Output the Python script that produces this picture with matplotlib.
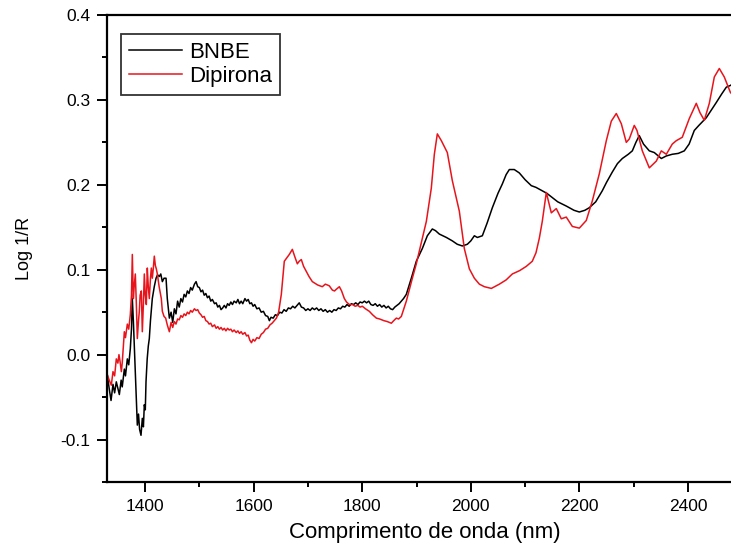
import matplotlib
matplotlib.use("Agg")
import matplotlib.pyplot as plt
from matplotlib.ticker import MultipleLocator

plt.rcParams['font.family'] = ['Liberation Sans', 'DejaVu Sans']

# BNBE spectrum (wavelength nm, log 1/R)
bnbe_nm = [1330.6, 1334, 1337.4, 1341, 1344, 1347.1, 1350, 1352.7, 1356, 1358,
           1361.9, 1364, 1367.4, 1370, 1372.9, 1375, 1376.6, 1378.5, 1380.3, 1382,
           1384, 1385.8, 1388, 1390, 1392.6, 1395, 1397, 1398.7, 1400.5, 1401.8,
           1404, 1406, 1407.9, 1410, 1413.4, 1417, 1420.3, 1423, 1426.3, 1429,
           1431.9, 1435, 1438.7,
           1441, 1444.8, 1448, 1451, 1454, 1457, 1460, 1463, 1466, 1469,
           1472, 1475, 1478, 1481, 1484, 1487, 1491, 1494, 1497, 1500,
           1503, 1506, 1509, 1512, 1515, 1518, 1521, 1524, 1528, 1531,
           1534, 1537, 1540, 1543, 1546, 1549, 1552, 1555, 1558, 1561,
           1564, 1568, 1571, 1574, 1577, 1580, 1584, 1587, 1590, 1593,
           1596, 1599, 1602, 1606, 1610, 1614, 1618, 1622, 1626, 1629,
           1632, 1636, 1640, 1644, 1648, 1652, 1656, 1660, 1664, 1668,
           1672, 1676, 1680, 1684, 1688, 1692, 1696, 1700, 1704, 1708,
           1712, 1716, 1720, 1724, 1728, 1732, 1736, 1740, 1744, 1748,
           1752, 1756, 1760, 1764, 1768, 1772, 1776, 1780, 1784, 1788,
           1792, 1796, 1800, 1804, 1808, 1812, 1816, 1820, 1824, 1828,
           1832, 1836, 1840, 1844, 1848, 1852, 1856, 1860, 1864, 1868,
           1872, 1876, 1881.2, 1890.4, 1899.6, 1910.7, 1919.9, 1929.1, 1935,
           1942.0, 1955, 1965.9, 1975, 1984.4, 1993.6, 2000, 2006.5, 2012, 2021.2,
           2030, 2039.6, 2050, 2058.0, 2065, 2070.9, 2080, 2089.3, 2100, 2111.4,
           2120, 2131.6, 2140, 2150.1, 2160, 2175.8, 2190, 2199.8, 2210, 2218.1,
           2230, 2242.1, 2250, 2260.5, 2270, 2279.0, 2290, 2297.4, 2304, 2310.2,
           2318, 2328.7, 2337.9, 2350.8, 2360, 2371.0, 2382, 2393.1, 2402, 2411.5,
           2420, 2433.6, 2445, 2452.1, 2462, 2470.5, 2477.9, 2490]
bnbe_val = [-0.024, -0.040, -0.054, -0.035, -0.045, -0.032, -0.040, -0.047, -0.030, -0.038,
            -0.017, -0.025, -0.005, -0.012, 0.007, 0.030, 0.066, 0.040, 0.010, -0.020,
            -0.050, -0.083, -0.070, -0.088, -0.095, -0.075, -0.085, -0.059, -0.065, -0.032,
            -0.005, 0.010, 0.019, 0.040, 0.066, 0.080, 0.090, 0.094, 0.092, 0.095,
            0.086, 0.090, 0.090,
            0.066, 0.043, 0.050, 0.038, 0.054, 0.048, 0.063, 0.056, 0.066, 0.062,
            0.071, 0.068, 0.075, 0.072, 0.079, 0.076, 0.083, 0.086, 0.080, 0.079,
            0.074, 0.076, 0.070, 0.072, 0.067, 0.069, 0.063, 0.065, 0.060, 0.061,
            0.056, 0.058, 0.053, 0.055, 0.058, 0.055, 0.060, 0.058, 0.062, 0.059,
            0.063, 0.061, 0.065, 0.060, 0.063, 0.060, 0.066, 0.063, 0.065, 0.060,
            0.061, 0.057, 0.059, 0.054, 0.055, 0.050, 0.051, 0.046, 0.045, 0.040,
            0.044, 0.043, 0.047, 0.046, 0.050, 0.049, 0.053, 0.051, 0.055, 0.054,
            0.057, 0.055, 0.058, 0.061, 0.056, 0.055, 0.052, 0.054, 0.052, 0.055,
            0.053, 0.055, 0.052, 0.054, 0.051, 0.053, 0.050, 0.052, 0.050, 0.053,
            0.052, 0.055, 0.054, 0.057, 0.056, 0.059, 0.057, 0.060, 0.059, 0.061,
            0.059, 0.062, 0.061, 0.063, 0.061, 0.063, 0.059, 0.058, 0.060, 0.057,
            0.059, 0.056, 0.058, 0.055, 0.057, 0.054, 0.053, 0.056, 0.058, 0.060,
            0.063, 0.066, 0.071, 0.090, 0.110, 0.125, 0.140, 0.148, 0.146,
            0.142, 0.138, 0.134, 0.130, 0.128, 0.130, 0.134, 0.140, 0.138, 0.140,
            0.155, 0.173, 0.190, 0.201, 0.212, 0.218, 0.218, 0.214, 0.206, 0.199,
            0.197, 0.193, 0.190, 0.185, 0.180, 0.175, 0.170, 0.168, 0.170, 0.173,
            0.180, 0.193, 0.203, 0.215, 0.225, 0.231, 0.236, 0.240, 0.250, 0.258,
            0.248, 0.240, 0.238, 0.231, 0.234, 0.236, 0.237, 0.240, 0.248, 0.264,
            0.270, 0.279, 0.290, 0.297, 0.307, 0.315, 0.317, 0.322]

# Dipirona spectrum
dip_nm = [1330.6, 1334, 1337.9, 1341, 1344, 1347.1, 1350, 1352, 1354, 1356.4,
          1358, 1361.9, 1364, 1367.4, 1370, 1372.9, 1375, 1376.6, 1378.5, 1380,
          1382.1, 1384, 1385.8, 1388, 1389.5, 1391, 1393.2, 1395.0, 1397, 1398.7,
          1400.5, 1402.4, 1404.2, 1406, 1407.9, 1410, 1411.6, 1413.4, 1415, 1417.1,
          1419, 1420.8, 1422.7, 1426, 1430.0, 1431.9, 1435, 1438, 1441,
          1444.8, 1448, 1451, 1454, 1457, 1460, 1463, 1466, 1469, 1472,
          1475, 1478, 1481, 1484, 1487, 1491, 1494, 1497, 1500, 1503,
          1506, 1509, 1512, 1515, 1518, 1521, 1524, 1528, 1531, 1534,
          1537, 1540, 1543, 1546, 1549, 1552, 1555, 1558, 1561, 1564,
          1568, 1571, 1574, 1577, 1580, 1584, 1587, 1590, 1593, 1596,
          1599, 1602, 1606, 1610, 1614, 1618, 1622, 1626, 1630, 1634,
          1638, 1642, 1646, 1651.0, 1656.5, 1665.7, 1671.3, 1676, 1680.5, 1684,
          1687.8, 1692, 1697.1, 1702, 1708.1, 1713, 1718, 1722, 1726.5, 1732,
          1736, 1739.4, 1745.0, 1749, 1752.3, 1757.9, 1762, 1767.1, 1771, 1776.3,
          1782, 1787, 1792, 1796, 1800.2, 1806, 1813.1, 1819, 1826.0, 1832,
          1840, 1846, 1853.6, 1858, 1862.8, 1867, 1872.0, 1881.2, 1892.3, 1899.6,
          1905.2, 1918.1, 1927.2, 1932.8, 1938.3, 1945.7, 1956.7, 1965.9, 1978.8, 1988.0,
          1997.3, 2006.5, 2015.7, 2025, 2037.8, 2052.5, 2065, 2076.4, 2090, 2102.2,
          2113.2, 2120, 2126.1, 2131.6, 2139.0, 2145, 2148.2, 2157.4, 2166.6, 2175.8,
          2186.9, 2199.8, 2212.6, 2223.7, 2236.6, 2249.5, 2258.7, 2267.9, 2277.1, 2286.3,
          2291.8, 2301.0, 2306, 2315.8, 2328.7, 2341.6, 2350.8, 2360.0, 2371.0, 2378.4,
          2389.4, 2402.3, 2415.2, 2422, 2430.0, 2439.2, 2448.4, 2457.6, 2466.8, 2477.9,
          2490]
dip_val = [-0.024, -0.030, -0.036, -0.020, -0.025, -0.005, -0.010, 0.000, -0.008, -0.020,
           -0.010, 0.027, 0.020, 0.036, 0.030, 0.047, 0.070, 0.118, 0.066, 0.080,
           0.095, 0.060, 0.019, 0.040, 0.051, 0.070, 0.075, 0.027, 0.060, 0.095,
           0.070, 0.059, 0.102, 0.080, 0.066, 0.090, 0.102, 0.090, 0.100, 0.116,
           0.105, 0.101, 0.095, 0.080, 0.066, 0.051, 0.045, 0.043, 0.035,
           0.027, 0.038, 0.032, 0.039, 0.036, 0.042, 0.041, 0.046, 0.044, 0.048,
           0.046, 0.050, 0.048, 0.052, 0.050, 0.054, 0.052, 0.053, 0.049, 0.047,
           0.044, 0.045, 0.040, 0.039, 0.036, 0.037, 0.033, 0.035, 0.031, 0.033,
           0.030, 0.032, 0.029, 0.031, 0.028, 0.031, 0.029, 0.030, 0.027, 0.029,
           0.026, 0.028, 0.025, 0.027, 0.024, 0.026, 0.022, 0.023, 0.017, 0.014,
           0.018, 0.016, 0.020, 0.019, 0.024, 0.026, 0.030, 0.031, 0.035, 0.037,
           0.040, 0.043, 0.050, 0.071, 0.110, 0.118, 0.124, 0.115, 0.107, 0.110,
           0.112, 0.104, 0.098, 0.092, 0.086, 0.084, 0.082, 0.081, 0.080, 0.083,
           0.082, 0.081, 0.076, 0.075, 0.077, 0.080, 0.075, 0.066, 0.062, 0.059,
           0.059, 0.057, 0.058, 0.056, 0.057, 0.054, 0.051, 0.047, 0.043, 0.042,
           0.040, 0.039, 0.037, 0.040, 0.043, 0.042, 0.045, 0.063, 0.090, 0.107,
           0.122, 0.157, 0.196, 0.236, 0.260, 0.252, 0.238, 0.205, 0.169, 0.125,
           0.101, 0.090, 0.083, 0.080, 0.078, 0.083, 0.088, 0.095, 0.099, 0.104,
           0.110, 0.120, 0.137, 0.157, 0.191, 0.175, 0.167, 0.172, 0.160, 0.162,
           0.151, 0.149, 0.158, 0.181, 0.213, 0.252, 0.275, 0.284, 0.272, 0.250,
           0.254, 0.270, 0.264, 0.240, 0.220, 0.228, 0.240, 0.236, 0.248, 0.252,
           0.256, 0.278, 0.296, 0.285, 0.276, 0.296, 0.327, 0.337, 0.327, 0.309,
           0.300]

fig = plt.figure(figsize=(7.31, 5.56), dpi=100)
ax = fig.add_axes([0.1464, 0.1331, 0.8691, 0.8399])

ax.plot(bnbe_nm, bnbe_val, color='black', lw=1.1, label='BNBE')
ax.plot(dip_nm, dip_val, color='#e8141c', lw=1.1, label='Dipirona')

ax.set_xlim(1330, 2500)
ax.set_ylim(-0.15, 0.4)
ax.xaxis.set_major_locator(MultipleLocator(200))
ax.xaxis.set_minor_locator(MultipleLocator(100))
ax.yaxis.set_minor_locator(MultipleLocator(0.05))
ax.set_yticks([-0.1, 0.0, 0.1, 0.2, 0.3, 0.4])
ax.set_yticklabels(['-0.1', '0.0', '0.1', '0.2', '0.3', '0.4'])

for s in ax.spines.values():
    s.set_linewidth(1.6)
ax.tick_params(which='major', direction='out', length=7, width=1.4, labelsize=12.5, pad=5)
ax.tick_params(which='minor', direction='out', length=3.5, width=1.4)

ax.set_xlabel('Comprimento de onda (nm)', fontsize=16, labelpad=6)
ax.set_ylabel('Log 1/R', fontsize=13, labelpad=20)

leg = ax.legend(loc='upper left', bbox_to_anchor=(0.022, 0.959), borderaxespad=0,
                fontsize=16, frameon=True, fancybox=False, handlelength=2.4,
                handletextpad=0.3, labelspacing=0.15, borderpad=0.35)
leg.get_frame().set_edgecolor('black')
leg.get_frame().set_linewidth(1.3)

fig.savefig('out.png', dpi=100)
